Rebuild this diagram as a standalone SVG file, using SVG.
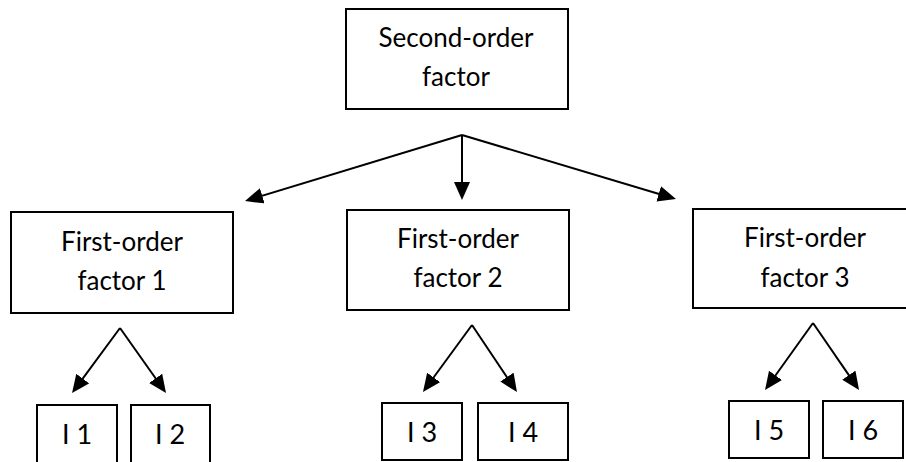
<svg xmlns="http://www.w3.org/2000/svg" width="906" height="462" viewBox="0 0 906 462">
  <style>
    .box { fill: #ffffff; stroke: #000000; stroke-width: 2; }
    .lbl { font-family: Lato, "Open Sans", "Liberation Sans", sans-serif; font-size: 26px; fill: #000000; text-anchor: middle; }
    .item { font-size: 27px; }
    .edge { stroke: #000000; stroke-width: 2; fill: none; marker-end: url(#head); }
  </style>
  <defs>
    <marker id="head" markerUnits="userSpaceOnUse" markerWidth="18" markerHeight="16" refX="10" refY="8" orient="auto">
      <path d="M0,0 L18,8 L0,16 z" fill="#000000"/>
    </marker>
  </defs>
  <rect width="906" height="462" fill="#ffffff"/>

  <g id="connectors">
    <!-- second-order factor to the three first-order factors -->
    <path class="edge" d="M462,135 L252.7,198.7"/>
    <path class="edge" d="M462,135 L462,192"/>
    <path class="edge" d="M462,135 L668.3,196.7"/>
    <!-- first-order factors to their items -->
    <path class="edge" d="M120,328 L76.8,386.6"/>
    <path class="edge" d="M120,328 L161.4,386.5"/>
    <path class="edge" d="M472,325 L427.7,385.5"/>
    <path class="edge" d="M472,325 L512.5,385.4"/>
    <path class="edge" d="M813,323 L769.7,383.5"/>
    <path class="edge" d="M813,323 L854.5,383.4"/>
  </g>

  <g id="second-order">
    <rect class="box" x="346" y="9" width="222" height="100"/>
    <text class="lbl" x="456" y="47">Second-order</text>
    <text class="lbl" x="456" y="86">factor</text>
  </g>

  <g id="first-order-1">
    <rect class="box" x="11" y="212" width="222" height="101"/>
    <text class="lbl" x="122" y="251">First-order</text>
    <text class="lbl" x="122" y="290">factor 1</text>
  </g>
  <g id="first-order-2">
    <rect class="box" x="347" y="210" width="222" height="100"/>
    <text class="lbl" x="458" y="248">First-order</text>
    <text class="lbl" x="458" y="287">factor 2</text>
  </g>
  <g id="first-order-3">
    <rect class="box" x="693" y="209" width="224" height="99"/>
    <text class="lbl" x="805" y="247">First-order</text>
    <text class="lbl" x="805" y="287">factor 3</text>
  </g>

  <g id="item-1">
    <rect class="box" x="37" y="405" width="80" height="65"/>
    <text class="lbl item" x="77" y="444">I 1</text>
  </g>
  <g id="item-2">
    <rect class="box" x="131" y="405" width="79" height="65"/>
    <text class="lbl item" x="170" y="444">I 2</text>
  </g>
  <g id="item-3">
    <rect class="box" x="382" y="403" width="80" height="57"/>
    <text class="lbl item" x="422" y="442">I 3</text>
  </g>
  <g id="item-4">
    <rect class="box" x="478" y="403" width="90" height="57"/>
    <text class="lbl item" x="523" y="442">I 4</text>
  </g>
  <g id="item-5">
    <rect class="box" x="729" y="401" width="80" height="57"/>
    <text class="lbl item" x="769" y="440">I 5</text>
  </g>
  <g id="item-6">
    <rect class="box" x="823" y="401" width="80" height="57"/>
    <text class="lbl item" x="863" y="440">I 6</text>
  </g>
</svg>
